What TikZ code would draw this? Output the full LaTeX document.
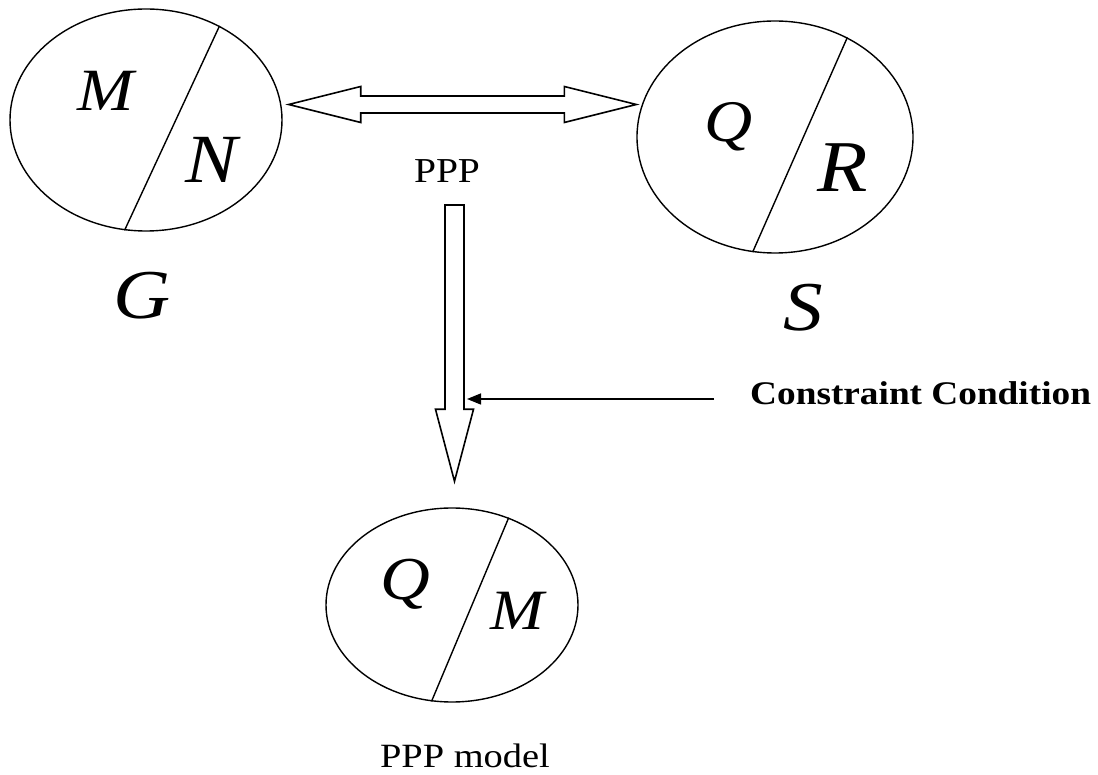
\documentclass[tikz,border=0pt]{standalone}
\usepackage{fontspec}
\setmainfont{Liberation Serif}[FakeStretch=1.13]
\usetikzlibrary{shapes.geometric,calc,arrows.meta}
\newcommand\fsz[1]{\fontsize{#1pt}{#1pt}\selectfont}
\begin{document}
\begin{tikzpicture}[x=1pt,y=1pt,
  set/.style={draw, ellipse, line width=1.4pt, inner sep=0pt},
  divider/.style={line width=1.4pt},
  hollow/.style={draw, line width=1.6pt, line join=miter, fill=white},
  letter/.style={anchor=base, inner sep=0pt, font=\itshape\fsz{#1}},
  caption/.style={anchor=base, inner sep=0pt, font=\fsz{#1}},
  pointer/.style={line width=1.5pt, -{Triangle[length=14pt,width=11pt]}}]

\fill[white] (0,0) rectangle (1098,774);

% the three sets
\node[set, minimum width=272, minimum height=222] (G) at (146,654) {};
\node[set, minimum width=276, minimum height=232] (S) at (775,637) {};
\node[set, minimum width=252, minimum height=194] (P) at (452,169) {};

% split lines
\draw[divider] (G.52.7) -- (G.259.8);
\draw[divider] (S.54.5) -- (S.259.6);
\draw[divider] (P.57.7) -- (P.258.7);

% letters inside the sets
\node[letter=60] (gM) at (106,663) {M};
\node[letter=69] (gN) at (212,591) {N};
\node[letter=59] (sQ) at (729,632) {Q};
\node[letter=73] (sR) at (843,582) {R};
\node[letter=61] (pQ) at (405,174) {Q};
\node[letter=57] (pM) at (517,144) {M};

% set names and captions
\node[letter=70] (gl) at (142,455) {G};
\node[letter=70] (sl) at (803,443) {S};
\node[caption=35] (ppp) at (447,591) {PPP};
\node[caption=34] (pl) at (465,6) {PPP model};
\node[caption=33, anchor=base west, font=\bfseries\fsz{33}] (cc) at (750,369) {Constraint Condition};

% hollow double arrow between G and S
\coordinate (dl) at ($(G.east)+(6,15.5)$);
\coordinate (dr) at ($(S.west)+(0,32.5)$);
\draw[hollow] (dl) -- ($(dl)+(72,18)$) -- ($(dl)+(72,8.5)$) -- ($(dr)+(-72,8.5)$)
  -- ($(dr)+(-72,18)$) -- (dr) -- ($(dr)+(-72,-18)$) -- ($(dr)+(-72,-8.5)$)
  -- ($(dl)+(72,-8.5)$) -- ($(dl)+(72,-18)$) -- cycle;

% hollow arrow down to the model
\coordinate (vt) at ($(ppp.base)+(7.5,-22)$);
\coordinate (vb) at ($(P.north)+(2.5,26)$);
\draw[hollow] ($(vt)+(-9.5,0)$) -- ($(vt)+(9.5,0)$) -- ($(vb)+(9.5,72)$)
  -- ($(vb)+(19,72)$) -- (vb) -- ($(vb)+(-19,72)$) -- ($(vb)+(-9.5,72)$) -- cycle;

% constraint pointer
\coordinate (cs) at ($(cc.base west)+(-36,6)$);
\coordinate (ce) at ($(vt |- cs)+(12.5,0)$);
\draw[pointer] (cs) -- (ce);
\end{tikzpicture}
\end{document}
